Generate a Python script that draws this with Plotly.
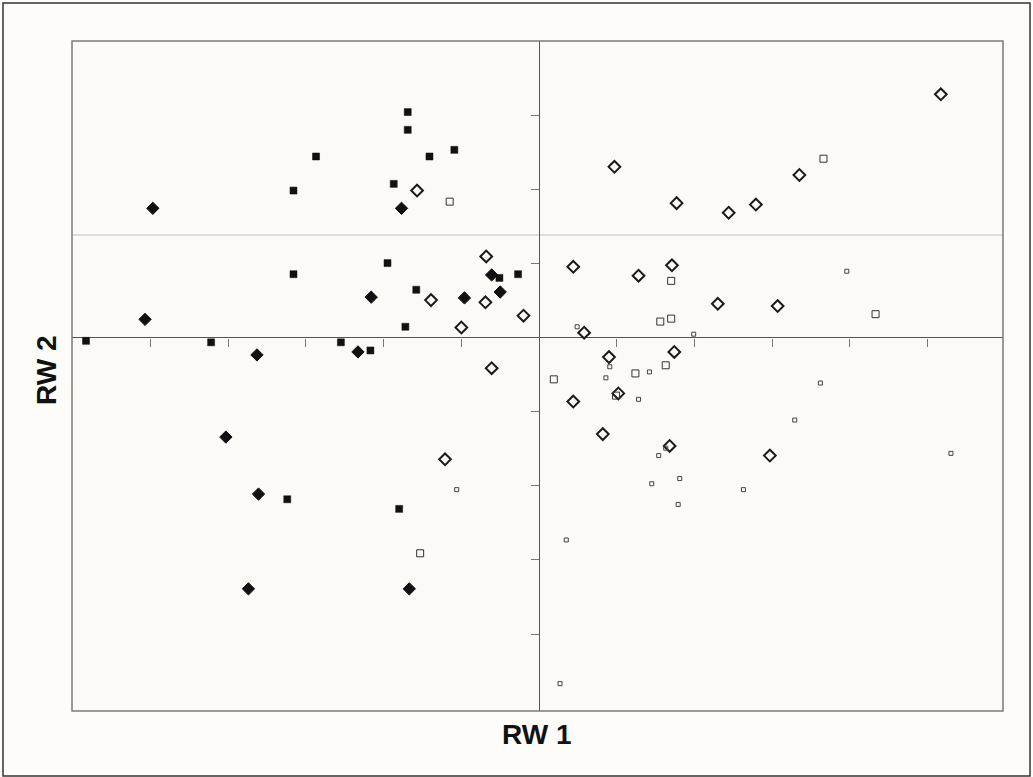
import plotly.graph_objects as go

# ---- data (RW1, RW2 scores) ----
filled_diamond_x = [-4.97, -1.77, -0.61, -0.50, -2.16, -0.96, -5.07, -3.63, -2.33, -4.03, -3.61, -3.74, -1.67]
filled_diamond_y = [1.75, 1.75, 0.85, 0.62, 0.55, 0.54, 0.25, -0.23, -0.19, -1.34, -2.11, -3.39, -3.39]

filled_square_x = [-1.69, -1.69, -2.87, -1.41, -1.09, -3.16, -1.87, -1.95, -3.16, -0.51, -0.27, -1.58,
                   -1.72, -5.83, -4.22, -2.55, -2.17, -3.24, -1.80]
filled_square_y = [3.05, 2.81, 2.45, 2.45, 2.54, 1.99, 2.08, 1.01, 0.86, 0.81, 0.86, 0.65,
                   0.15, -0.04, -0.06, -0.06, -0.17, -2.18, -2.31]

open_diamond_x = [-1.57, -0.68, -1.39, -0.69, -0.20, -1.00, -0.61, -1.21, 5.17, 0.97, 3.35, 1.77, 2.44, 2.79,
                  0.44, 1.28, 1.71, 2.30, 3.07, 0.58, 0.90, 1.74, 1.02, 0.44, 0.82, 1.68, 2.97]
open_diamond_y = [1.99, 1.10, 0.51, 0.48, 0.30, 0.14, -0.41, -1.64, 3.29, 2.31, 2.20, 1.82, 1.69, 1.80,
                  0.96, 0.84, 0.98, 0.46, 0.43, 0.07, -0.26, -0.19, -0.75, -0.86, -1.30, -1.46, -1.59]

open_square_x = [-1.15, -1.53, 3.66, 1.70, 4.33, 1.56, 1.70, 0.19, 1.63, 1.24, 0.99]
open_square_y = [1.84, -2.91, 2.42, 0.77, 0.32, 0.22, 0.26, -0.56, -0.37, -0.48, -0.78]

small_square_x = [-1.06, 3.96, 0.49, 1.99, 0.91, 0.86, 1.42, 1.28, 3.62, 3.29, 1.63, 1.54, 5.30,
                  1.81, 1.45, 2.63, 1.79, 0.35, 0.27]
small_square_y = [-2.05, 0.90, 0.15, 0.05, -0.39, -0.54, -0.46, -0.83, -0.61, -1.11, -1.49, -1.59, -1.56,
                  -1.90, -1.97, -2.05, -2.25, -2.73, -4.67]

x_ticks = [-5, -4, -3, -2, -1, 1, 2, 3, 4, 5]
y_ticks = [-4, -3, -2, -1, 1, 2, 3]

XMIN, XMAX = -6.01, 5.97
YMIN, YMAX = -5.04, 4.01

fig = go.Figure()
fig.add_trace(go.Scatter(x=filled_diamond_x, y=filled_diamond_y, mode="markers",
                         marker=dict(symbol="diamond", size=9.5, color="#111111",
                                     line=dict(color="#111111", width=1))))
fig.add_trace(go.Scatter(x=filled_square_x, y=filled_square_y, mode="markers",
                         marker=dict(symbol="square", size=7, color="#111111",
                                     line=dict(color="#111111", width=0.5))))
fig.add_trace(go.Scatter(x=open_diamond_x, y=open_diamond_y, mode="markers",
                         marker=dict(symbol="diamond-open", size=9, color="#1a1a1a",
                                     line=dict(color="#1a1a1a", width=2))))
fig.add_trace(go.Scatter(x=open_square_x, y=open_square_y, mode="markers",
                         marker=dict(symbol="square-open", size=7, color="#333333",
                                     line=dict(color="#333333", width=1))))
fig.add_trace(go.Scatter(x=small_square_x, y=small_square_y, mode="markers",
                         marker=dict(symbol="square-open", size=4, color="#444444",
                                     line=dict(color="#444444", width=1))))

x0_pos = (0 - YMIN) / (YMAX - YMIN)
y0_pos = (0 - XMIN) / (XMAX - XMIN)

fig.update_layout(
    width=1033, height=777,
    margin=dict(l=72, r=30, t=41, b=66),
    paper_bgcolor="#fdfcf9",
    plot_bgcolor="#fbfaf6",
    showlegend=False,
    xaxis=dict(range=[XMIN, XMAX], anchor="free", position=x0_pos, showgrid=False,
               zeroline=True, zerolinecolor="#555555", zerolinewidth=1,
               showline=False, ticks="outside", ticklen=8, tickcolor="#777777", tickwidth=1,
               tickvals=x_ticks, showticklabels=False),
    yaxis=dict(range=[YMIN, YMAX], anchor="free", position=y0_pos, showgrid=False,
               zeroline=True, zerolinecolor="#555555", zerolinewidth=1,
               showline=False, ticks="outside", ticklen=8, tickcolor="#777777", tickwidth=1,
               tickvals=y_ticks, showticklabels=False),
    shapes=[
        dict(type="rect", xref="paper", yref="paper", x0=0, x1=1, y0=0, y1=1,
             line=dict(color="#7a7a7a", width=1.5), layer="above"),
        dict(type="line", xref="paper", yref="y", x0=0, x1=1, y0=1.39, y1=1.39,
             line=dict(color="#d2d2d2", width=1.5), layer="below"),
        dict(type="rect", xref="paper", yref="paper",
             x0=(3 - 72) / 931, x1=(1030 - 72) / 931,
             y0=(711 - 776) / 670, y1=(711 - 3) / 670,
             line=dict(color="#333333", width=1.5)),
    ],
    annotations=[
        dict(text="<b>RW 1</b>", xref="paper", yref="paper",
             x=(537 - 72) / 931, y=(711 - 734) / 670, showarrow=False,
             xanchor="center", yanchor="middle",
             font=dict(family="Liberation Sans, Arial", size=28, color="#111111")),
        dict(text="<b>RW 2</b>", xref="paper", yref="paper",
             x=(46 - 72) / 931, y=(711 - 370) / 670, showarrow=False, textangle=-90,
             xanchor="center", yanchor="middle",
             font=dict(family="Liberation Sans, Arial", size=28, color="#111111")),
    ],
)

fig.write_html("out.html", config={"displayModeBar": False},
               post_script="document.body.style.margin='0px';document.body.style.overflow='hidden';")
